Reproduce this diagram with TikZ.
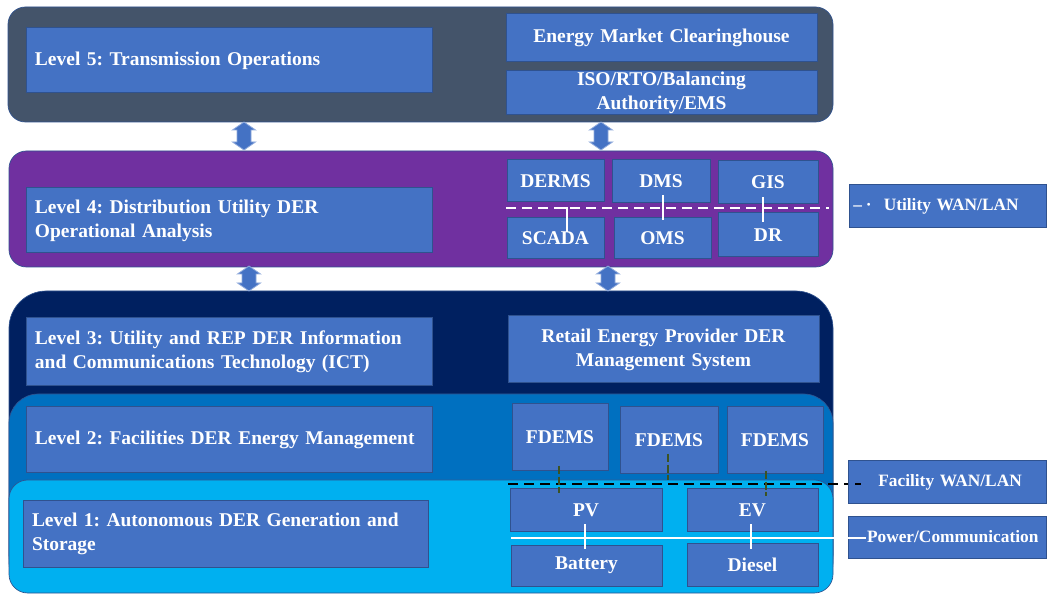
\documentclass[tikz,border=0pt]{standalone}
\usepackage{fontspec}
\setmainfont{Liberation Serif}
\frenchspacing
\definecolor{bandfive}{HTML}{44546A}
\definecolor{bandfour}{HTML}{7030A0}
\definecolor{bandthree}{HTML}{002060}
\definecolor{bandtwo}{HTML}{0070C0}
\definecolor{bandone}{HTML}{00B0F0}
\definecolor{boxblue}{HTML}{4472C4}
\definecolor{boxedge}{HTML}{2F528F}
\definecolor{arredge}{HTML}{8FAADC}
\definecolor{stubgreen}{HTML}{3B5323}
% \bx[options]{name}{x1}{y1}{x2}{y2}{text}  (pixel coordinates)
\newcommand\bx[7][]{%
  \pgfmathsetmacro\bxcx{(#3+#5)/2}%
  \pgfmathsetmacro\bxcy{(#4+#6)/2}%
  \pgfmathsetmacro\bxw{(#5-#3)*0.75}%
  \pgfmathsetmacro\bxh{(#6-#4)*0.75}%
  \pgfmathsetmacro\bxtw{(#5-#3)*0.75-13.5}%
  \node[box, minimum width=\bxw pt, minimum height=\bxh pt, text width=\bxtw pt, #1] (#2) at (\bxcx,\bxcy) {#7};}
% \darr{x}{top}{bottom}
\newcommand\darr[3]{%
  \filldraw[updown] (#1,#2) -- (#1+11.5,#2+8) -- (#1+7,#2+8) -- (#1+7,#3-8) -- (#1+11.5,#3-8)
    -- (#1,#3) -- (#1-11.5,#3-8) -- (#1-7,#3-8) -- (#1-7,#2+8) -- (#1-11.5,#2+8) -- cycle;}
\begin{document}
\begin{tikzpicture}[x=0.75pt,y=-0.75pt,
  every node/.style={font=\fontsize{14.6}{18}\selectfont\bfseries, text=white},
  box/.style={fill=boxblue, draw=boxedge, line width=0.75pt, inner sep=0pt, outer sep=0pt, align=center},
  lbox/.style={box, align=left},
  legend/.style={lbox, font=\fontsize{13}{18}\selectfont\bfseries},
  band/.style={draw=boxedge, line width=0.5pt},
  updown/.style={fill=boxblue, draw=arredge, line width=0.6pt},
  udash/.style={draw=white, line width=1.9pt, dash pattern=on 7.5pt off 4.5pt},
  ustub/.style={draw=white, line width=1.5pt},
  fdash/.style={draw=black, line width=1.9pt, dash pattern=on 7.5pt off 4.5pt},
  gstub/.style={draw=stubgreen, line width=1.6pt, dash pattern=on 6pt off 2pt},
  pline/.style={draw=white, line width=1.9pt}]
\useasboundingbox (0,0) rectangle (1047,595);
\fill[white] (0,0) rectangle (1047,595);

% ---------- bands ----------
\bx[band, fill=bandfive, rounded corners=13pt]{L5}{8}{7}{833}{122}{}
\bx[band, fill=bandfour, rounded corners=13pt]{L4}{9}{151}{833}{267}{}
\bx[band, fill=bandthree, rounded corners=28pt]{L3}{9}{291}{833}{592}{}
\bx[band, fill=bandtwo, rounded corners=22pt]{L2}{9}{394}{833}{592}{}
\bx[band, fill=bandone, rounded corners=14pt]{L1}{9}{480}{833}{593}{}

% ---------- level 5 ----------
\bx[lbox]{t5}{26}{28}{432}{93}{Level 5: Transmission Operations}
\bx{emc}{506}{14}{817}{62}{Energy Market Clearinghouse}
\bx{iso}{506}{71}{817}{115}{ISO/RTO/Balancing\\Authority/EMS}

% ---------- level 4 ----------
\bx[lbox]{t4}{26}{188}{432}{253}{Level 4: Distribution Utility DER\\Operational Analysis}
\bx{derms}{507}{160}{604}{202}{DERMS}
\bx{dms}{612}{160}{710}{203}{DMS}
\bx{gis}{718}{161}{818}{204}{GIS}
\bx{scada}{507}{218}{604}{259}{SCADA}
\bx{oms}{614}{218}{711}{259}{OMS}
\bx{dr}{718}{213}{818}{257}{DR}

% ---------- level 3 ----------
\bx[lbox]{t3}{26}{318}{432}{386}{Level 3: Utility and REP DER Information\\and Communications Technology (ICT)}
\bx{rep}{508}{316}{819}{383}{Retail Energy Provider DER\\Management System}

% ---------- level 2 ----------
\bx[lbox]{t2}{26}{407}{432}{473}{Level 2: Facilities DER Energy Management}
\bx{fd1}{512}{404}{608}{471}{FDEMS}
\bx{fd2}{620}{407}{718}{474}{FDEMS}
\bx{fd3}{727}{407}{823}{474}{FDEMS}

% ---------- level 1 ----------
\bx[lbox]{t1}{23}{500}{428}{567}{Level 1: Autonomous DER Generation and\\Storage}
\bx{pv}{510}{489}{662}{531}{PV}
\bx{ev}{687}{489}{818}{531}{EV}
\bx{bat}{511}{545}{662}{586}{Battery}
\bx{die}{687}{543}{818}{586}{Diesel}

% ---------- legend ----------
\bx[legend]{lgu}{849}{185}{1046}{228}{\hspace*{-3.5pt}–\hspace{3pt}·\hspace{9pt}Utility WAN/LAN}
\bx[legend]{lgf}{848}{461}{1046}{503}{\hspace*{16pt}Facility WAN/LAN}
\bx[legend]{lgp}{848}{516}{1046}{558}{\hspace*{7.5pt}Power/Communication}

% ---------- utility WAN/LAN ----------
\coordinate (uwa) at (506,208);
\coordinate (uwb) at (829,208);
\draw[udash] (uwa) -- (uwb);
\coordinate (s1a) at (567,208); \coordinate (s1b) at (567,232);
\coordinate (s2a) at (663,195); \coordinate (s2b) at (663,220);
\coordinate (s3a) at (763,197); \coordinate (s3b) at (763,222);
\draw[ustub] (559,208) -- (s1a) -- (s1b);
\draw[ustub] (s2a) -- (s2b);
\draw[ustub] (s3a) -- (s3b);

% ---------- facility WAN/LAN ----------
\coordinate (fwa) at (508,484);
\draw[fdash] (fwa) -- (lgf.west |- fwa);
\draw[draw=black, line width=1.9pt] (855,484) -- (861,484);
\coordinate (g1a) at (559,466); \coordinate (g1b) at (559,493);
\coordinate (g2a) at (668,454); \coordinate (g2b) at (668,480);
\coordinate (g3a) at (766,471); \coordinate (g3b) at (766,496);
\draw[gstub] (g1a) -- (g1b);
\draw[gstub] (g2a) -- (g2b);
\draw[gstub] (g3a) -- (g3b);

% ---------- power / communication ----------
\coordinate (pwa) at (511,538);
\coordinate (pwb) at (866,538);
\draw[pline] (pwa) -- (pwb);
\coordinate (p1a) at (585,524); \coordinate (p1b) at (585,549);
\coordinate (p2a) at (751,524); \coordinate (p2b) at (751,549);
\draw[pline] (p1a) -- (p1b);
\draw[pline] (p2a) -- (p2b);

% ---------- level arrows ----------
\darr{244}{122}{150}
\darr{601}{122}{150}
\darr{249}{266}{291}
\darr{608}{266}{291}
\end{tikzpicture}
\end{document}
